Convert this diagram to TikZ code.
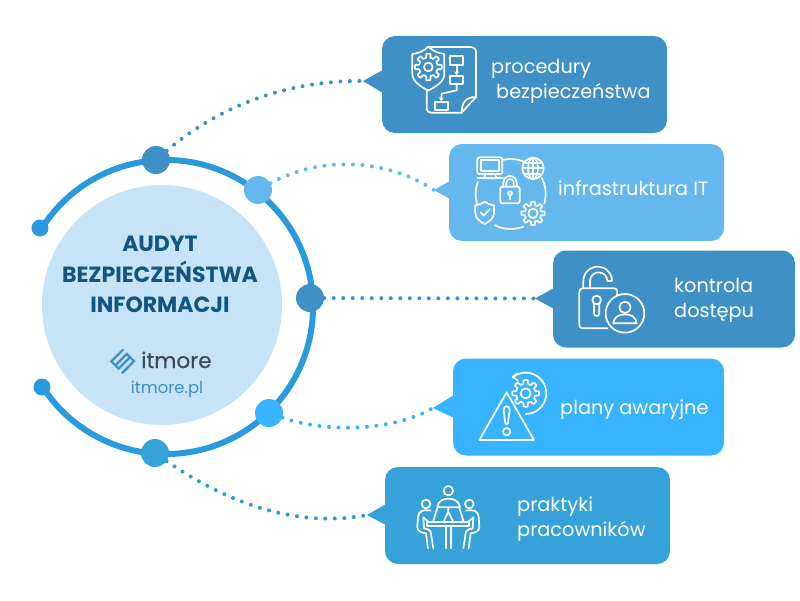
\documentclass[tikz,border=0pt]{standalone}
\usepackage{fontspec}
\setmainfont{Poppins}
\newfontfamily\logofont[FakeBold=0.5]{Poppins}
\usetikzlibrary{arrows.meta}
\definecolor{cA}{HTML}{3F90C7}
\definecolor{cB}{HTML}{65B8EE}
\definecolor{cC}{HTML}{3F90C7}
\definecolor{cD}{HTML}{38B3FF}
\definecolor{cE}{HTML}{36A2D9}
\definecolor{ringc}{HTML}{2A9ADF}
\definecolor{innerc}{HTML}{C6E3F7}
\definecolor{titlec}{HTML}{125680}
\definecolor{logoc}{HTML}{3F4B57}
\tikzset{
  box/.style={rounded corners=13pt,inner sep=0pt,minimum width=#1,minimum height=97pt},
  dot/.style={circle,inner sep=0pt,minimum size=28pt},
  enddot/.style={circle,inner sep=0pt,minimum size=17pt,fill=ringc},
  dots/.style={line width=4pt,line cap=round,dash pattern=on 0.01pt off 9.5pt},
  icon/.style={draw=white,line width=1.7pt,line cap=round,line join=round},
  lab/.style={inner sep=0pt,anchor=base west,text=white,font=\fontsize{19.3}{21}\selectfont},
  ttl/.style={inner sep=0pt,anchor=base,text=titlec,font=\fontsize{22}{24}\selectfont\bfseries},
  ico/.style={shift={#1},x=0.3333pt,y=-0.3333pt}
}
\newcommand\icgear[5]{\begin{scope}[shift={(#1,#2)}]
  \draw[icon] plot[domain=0:360,samples=145] ({(#4+(#3-#4)*max(0,min(1,0.5+2*cos(8*\x))))*cos(\x)},{(#4+(#3-#4)*max(0,min(1,0.5+2*cos(8*\x))))*sin(\x)}) -- cycle;
  \draw[icon] (0,0) circle (#5);
\end{scope}}
\begin{document}
\begin{tikzpicture}[x=1pt,y=-1pt]
\useasboundingbox (0,0) rectangle (800,600);
% central disc and ring
\node[circle,fill=innerc,inner sep=0pt,minimum size=240pt] (core) at (162,305) {};
\draw[ringc,line width=6pt] (166,307) ++(-148:147) arc (-148:147:147);
\node[enddot] (e1) at (40,228) {};
\node[enddot] (e2) at (42,387) {};
\node[dot,fill=cA] (n1) at (156,160) {};
\node[dot,fill=cB] (n2) at (258,190) {};
\node[dot,fill=cC] (n3) at (310,298) {};
\node[dot,fill=cD] (n4) at (269,413) {};
\node[dot,fill=cE] (n5) at (155,453) {};
% boxes with tails
\node[box=285pt,fill=cA] (b1) at (524.5,84.5) {};
\node[box=275pt,fill=cB] (b2) at (586.5,192.5) {};
\node[box=242pt,fill=cC] (b3) at (674,299) {};
\node[box=271pt,fill=cD] (b4) at (588.5,407) {};
\node[box=285pt,fill=cE] (b5) at (527.5,515.5) {};
\coordinate (t1) at (363,81);
\coordinate (t2) at (434,190);
\coordinate (t3) at (535,298.5);
\coordinate (t4) at (433,408);
\coordinate (t5) at (367,515);
\fill[cA] (t1) -- (383,70) -- (383,93) -- cycle;
\fill[cB] (t2) -- (450,181) -- (450,199) -- cycle;
\fill[cC] (t3) -- (554,288) -- (554,309) -- cycle;
\fill[cD] (t4) -- (454,395) -- (454,418) -- cycle;
\fill[cE] (t5) -- (386,504) -- (386,525) -- cycle;
% dotted connectors
\draw[dots,cA] (n1) .. controls (220,105) and (290,80) .. (t1);
\draw[dots,cB] (n2) .. controls (320,156) and (385,158) .. (t2);
\draw[dots,cC] (n3) -- (t3);
\draw[dots,cD] (n4) .. controls (330,434) and (395,430) .. (t4);
\draw[dots,ringc] (n5) .. controls (230,505) and (300,528) .. (t5);
% centre text
\node[ttl] (h1) at (160,251) {AUDYT};
\node[ttl] (h2) at (160,282) {BEZPIECZEŃSTWA};
\node[ttl] (h3) at (160,312) {INFORMACJI};
\begin{scope}[ico={(100,340)}]
 \draw[cA,line width=2.3pt,line join=miter] (70,28) -- (34,64) -- (56,86) -- (88,54);
 \draw[cA,line width=2.3pt,line join=miter] (66,100) -- (102,64) -- (80,42) -- (48,74);
\end{scope}
\node[inner sep=0pt,anchor=base west,text=logoc,font=\fontsize{21.5}{23}\logofont] (lg) at (141,368) {itmore};
\node[inner sep=0pt,anchor=base,text=cA,font=\fontsize{16.4}{18}\selectfont] (lu) at (167,393) {itmore.pl};
% labels
\node[lab] (l1a) at (491,73) {procedury};
\node[lab] (l1b) at (496,98) {bezpieczeństwa};
\node[lab] (l2) at (558,195) {infrastruktura IT};
\node[lab] (l3a) at (674,292) {kontrola};
\node[lab] (l3b) at (674,317) {dostępu};
\node[lab] (l4) at (560,414) {plany awaryjne};
\node[lab] (l5a) at (517,511) {praktyki};
\node[lab] (l5b) at (517,536) {pracowników};
% icon 1
\begin{scope}[ico={(405,42)}]
 \draw[icon] (72,15) -- (195,15) .. controls (208,15) and (213,22) .. (213,32) -- (213,165) -- (170,212) -- (78,212) .. controls (70,212) and (65,207) .. (65,200) -- (65,147);
 \draw[icon] (170,212) .. controls (170,185) and (180,165) .. (213,165);
 \draw[icon] (70,14) .. controls (55,28) and (40,34) .. (22,36) -- (22,95) .. controls (22,120) and (50,135) .. (70,146) .. controls (90,135) and (118,120) .. (118,95) -- (118,36) .. controls (100,34) and (85,28) .. (70,14) -- cycle;
 \icgear{70}{75}{40}{28}{13}
 \draw[icon] (135,42) rectangle (175,68);
 \draw[icon,-{Stealth[length=4pt,width=5pt]}] (155,68) -- (155,100);
 \draw[icon] (135,103) rectangle (175,127);
 \draw[icon,-{Stealth[length=4pt,width=5pt]}] (155,127) -- (155,145) -- (110,155) -- (108,178);
 \draw[icon] (90,180) rectangle (130,205);
\end{scope}
% icon 2
\begin{scope}[ico={(468,150)}]
 \draw[icon,rounded corners=2pt] (28,22) rectangle (103,72);
 \draw[icon] (38,31) rectangle (93,62);
 \draw[icon] (52,72) -- (48,85) -- (85,85) -- (82,72);
 \draw[icon] (28,85) -- (105,85);
 \draw[icon] (128,132) ++(-102:105) arc (-102:-69:105);
 \draw[icon] (128,132) ++(-27:105) arc (-27:16:105);
 \draw[icon] (128,132) ++(69:105) arc (69:117:105);
 \draw[icon] (128,132) ++(164:105) arc (164:200:105);
 \draw[icon] (195,55) circle (32);
 \draw[icon] (195,55) ellipse (15 and 32);
 \draw[icon] (163,55) -- (227,55) (169,38) -- (221,38) (169,72) -- (221,72) (195,23) -- (195,87);
 \draw[icon,rounded corners=2pt] (97,110) rectangle (155,160);
 \draw[icon] (106,110) -- (106,98) arc (180:360:20) -- (146,110);
 \draw[icon] (115,110) -- (115,98) arc (180:360:11) -- (137,110);
 \draw[icon] (126,130) circle (6);
 \draw[icon] (126,136) -- (126,148);
 \draw[icon] (50,155) .. controls (42,162) and (32,165) .. (22,166) -- (22,190) .. controls (22,205) and (38,216) .. (50,222) .. controls (62,216) and (78,205) .. (78,190) -- (78,166) .. controls (68,165) and (58,162) .. (50,155) -- cycle;
 \draw[icon] (38,187) -- (47,197) -- (65,178);
 \icgear{195}{190}{35}{25}{14}
\end{scope}
% icon 3
\begin{scope}[ico={(530,245)}]
 \draw[icon] (232,250) -- (158,250) .. controls (152,250) and (148,246) .. (148,240) -- (148,140) .. controls (148,134) and (152,130) .. (158,130) -- (252,130) .. controls (258,130) and (262,134) .. (262,140) -- (262,150);
 \draw[icon] (160,130) -- (160,108) arc (180:360:43) -- (232,108) arc (360:180:26) -- (180,130);
 \draw[icon] (213,165) arc (0:360:13);
 \draw[icon] (192,175) -- (192,205) arc (180:0:8) -- (208,175);
 \draw[icon] (285,205) circle (58);
 \draw[icon] (285,187) circle (17);
 \draw[icon] (250,235) .. controls (252,215) and (268,208) .. (285,208) .. controls (302,208) and (318,215) .. (320,235) -- cycle;
\end{scope}
% icon 4
\begin{scope}[ico={(430,355)}]
 \draw[icon] (230,112) -- (148,255) -- (312,255) -- cycle;
 \draw[icon] (221,165) .. controls (219,150) and (241,150) .. (239,165) -- (234,205) .. controls (233,209) and (227,209) .. (226,205) -- cycle;
 \draw[icon] (230,230) circle (11);
 \icgear{287}{115}{40}{29}{15}
 \draw[icon] (287,115) ++(-128:62) arc (-128:90:62);
 \draw[icon] (262,55) -- (248,66) -- (263,76);
\end{scope}
% icon 5
\begin{scope}[ico={(410,480)}]
 \draw[icon] (115,32) circle (14);
 \draw[icon] (48,72) circle (13);
 \draw[icon] (178,72) circle (13);
 \draw[icon] (82,82) .. controls (84,62) and (100,56) .. (115,56) .. controls (130,56) and (148,62) .. (150,82) -- cycle;
 \draw[icon] (82,84) -- (70,122) (148,84) -- (160,122) (115,95) -- (102,122) (115,95) -- (128,122) (115,84) -- (115,95);
 \draw[icon] (52,125) -- (178,125) -- (178,137) -- (52,137) -- cycle;
 \draw[icon] (108,137) -- (108,205) (122,137) -- (122,205);
 \draw[icon] (62,92) .. controls (40,88) and (26,92) .. (24,110) -- (22,140) .. controls (22,152) and (30,158) .. (48,160) -- (54,205);
 \draw[icon] (70,205) -- (62,155) .. controls (60,148) and (50,147) .. (42,145) -- (40,112) -- (55,125);
 \draw[icon] (168,92) .. controls (190,88) and (204,92) .. (206,110) -- (208,140) .. controls (208,152) and (200,158) .. (182,160) -- (176,205);
 \draw[icon] (160,205) -- (168,155) .. controls (170,148) and (180,147) .. (188,145) -- (190,112) -- (175,125);
\end{scope}
\end{tikzpicture}
\end{document}
